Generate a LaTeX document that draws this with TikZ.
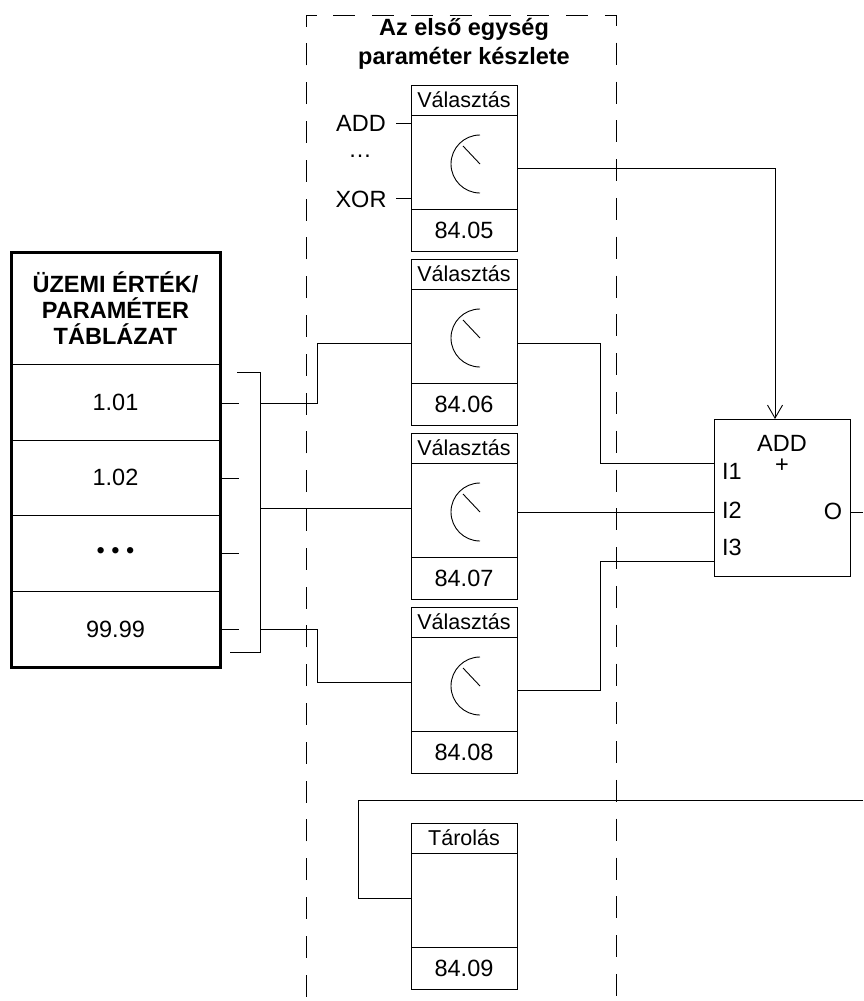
\documentclass[tikz,border=0pt]{standalone}
\usepackage{fontspec}
\setmainfont{Liberation Sans}
\usetikzlibrary{arrows.meta}
\tikzset{
    selhead/.style={draw, minimum width=106pt, minimum height=30pt, inner sep=0pt, outer sep=0pt, font=\fontsize{21.5}{24}\selectfont},
    selbody/.style={draw, minimum width=106pt, minimum height=94pt, inner sep=0pt, outer sep=0pt},
    selfoot/.style={draw, minimum width=106pt, minimum height=42pt, inner sep=0pt, outer sep=0pt, font=\fontsize{23.5}{24}\selectfont},
    tabrow/.style={draw, minimum width=209pt, inner sep=0pt, outer sep=0pt, font=\fontsize{23.5}{24}\selectfont},
    plainlabel/.style={inner sep=0pt, outer sep=0pt, font=\fontsize{23.5}{24}\selectfont},
    boldlabel/.style={inner sep=0pt, outer sep=0pt, align=center, font=\fontsize{23.5}{29}\selectfont\bfseries},
    dial/.pic={
        \draw (16,-27) arc[start angle=90, end angle=270, radius=29pt];
        \draw (16,2) -- (-1,-16);
    }
}
\begin{document}
\begin{tikzpicture}[x=1pt, y=-1pt, line width=0.9pt]
    \useasboundingbox (0,0) rectangle (863,1001);
    % frame of the parameter set
    \coordinate (frameA) at (306,1001);
    \coordinate (frameB) at (306,15);
    \coordinate (frameC) at (616,15);
    \coordinate (frameD) at (616,1001);
    \draw[dash pattern=on 22pt off 16.8pt, dash phase=34.3pt] (frameA) -- (frameB) -- (frameC) -- (frameD);
    \node[boldlabel] (title) at (464,44) {Az első egység\\paraméter készlete};
    % parameter table
    \node[tabrow, minimum height=112pt, boldlabel, font=\fontsize{23.5}{26}\selectfont\bfseries] (tabHead) at (115.5,308) {ÜZEMI ÉRTÉK/\\PARAMÉTER\\TÁBLÁZAT};
    \node[tabrow, minimum height=76pt] (t1) at (115.5,402) {1.01};
    \node[tabrow, minimum height=75pt] (t2) at (115.5,477.5) {1.02};
    \node[tabrow, minimum height=76pt] (t3) at (115.5,553) {• • •};
    \node[tabrow, minimum height=76pt] (t4) at (115.5,629) {99.99};
    \draw[line width=3pt] (tabHead.north west) rectangle (t4.south east);
    % selection boxes
    \node[selhead] (h1) at (464,100) {Választás};
    \node[selbody] (b1) at (464,162) {};
    \node[selfoot] (f1) at (464,230) {84.05};
    \pic at (b1) {dial};
    \node[selhead] (h2) at (464,274) {Választás};
    \node[selbody] (b2) at (464,336) {};
    \node[selfoot] (f2) at (464,404) {84.06};
    \pic at (b2) {dial};
    \node[selhead] (h3) at (464,448) {Választás};
    \node[selbody] (b3) at (464,510) {};
    \node[selfoot] (f3) at (464,578) {84.07};
    \pic at (b3) {dial};
    \node[selhead] (h4) at (464,622) {Választás};
    \node[selbody] (b4) at (464,684) {};
    \node[selfoot] (f4) at (464,752) {84.08};
    \pic at (b4) {dial};
    \node[selhead] (h5) at (464,838) {Tárolás};
    \node[selbody] (b5) at (464,900) {};
    \node[selfoot] (f5) at (464,968) {84.09};
    % function block
    \node[draw, minimum width=136pt, minimum height=157pt, inner sep=0pt, outer sep=0pt] (add) at (782,497.5) {};
    \node[plainlabel] (addName) at (782,443) {ADD};
    \node[plainlabel] (addPlus) at (782,466) {+};
    \node[plainlabel, anchor=west] (i1) at (722,471) {I1};
    \node[plainlabel, anchor=west] (i2) at (722,510) {I2};
    \node[plainlabel, anchor=west] (i3) at (722,547) {I3};
    \node[plainlabel] (out) at (833,511) {O};
    % operation list
    \node[plainlabel] (opAdd) at (361,123) {ADD};
    \node[plainlabel] (opDots) at (360,156) {…};
    \node[plainlabel] (opXor) at (361,199) {XOR};
    \coordinate (opAddEnd) at (396,123);
    \coordinate (opXorEnd) at (396,198);
    \draw (opAddEnd) -- (opAddEnd -| b1.west);
    \draw (opXorEnd) -- (opXorEnd -| b1.west);
    % stubs and bracket
    \coordinate (s1) at (239,403);
    \coordinate (s2) at (239,478);
    \coordinate (s3) at (239,553);
    \coordinate (s4) at (239,629);
    \draw (s1 -| t1.east) -- (s1);
    \draw (s2 -| t2.east) -- (s2);
    \draw (s3 -| t3.east) -- (s3);
    \draw (s4 -| t4.east) -- (s4);
    \coordinate (brTop) at (237,372);
    \coordinate (brBot) at (230,652);
    \coordinate (brA) at (260,403);
    \coordinate (brB) at (260,508);
    \coordinate (brC) at (260,629);
    \draw (brTop) -- (260,372) -- (260,652) -- (brBot);
    % inputs
    \coordinate (in2) at (411,343);
    \coordinate (in3) at (411,508);
    \coordinate (in4) at (411,682);
    \coordinate (in5) at (411,898);
    \draw (brA) -- (317,403) -- (317,343) -- (in2);
    \draw (brB) -- (in3);
    \draw (brC) -- (317,629) -- (317,682) -- (in4);
    % outputs
    \coordinate (out1) at (517,168);
    \coordinate (out2) at (517,343);
    \coordinate (out3) at (517,512);
    \coordinate (out4) at (517,690);
    \coordinate (addI1) at (714,463);
    \coordinate (addI2) at (714,512);
    \coordinate (addI3) at (714,561);
    \coordinate (addOut) at (850,512);
    \coordinate (rightEdge) at (863,512);
    \coordinate (backEdge) at (863,800);
    \draw[-{Straight Barb[length=13pt, width=15pt]}] (out1) -- (775,168) -- (775,419);
    \draw (out2) -- (600,343) -- (600,463) -- (addI1);
    \draw (out3) -- (addI2);
    \draw (out4) -- (600,690) -- (600,561) -- (addI3);
    \draw (addOut) -- (rightEdge);
    \draw (backEdge) -- (358,800) -- (358,898) -- (in5);
\end{tikzpicture}
\end{document}
